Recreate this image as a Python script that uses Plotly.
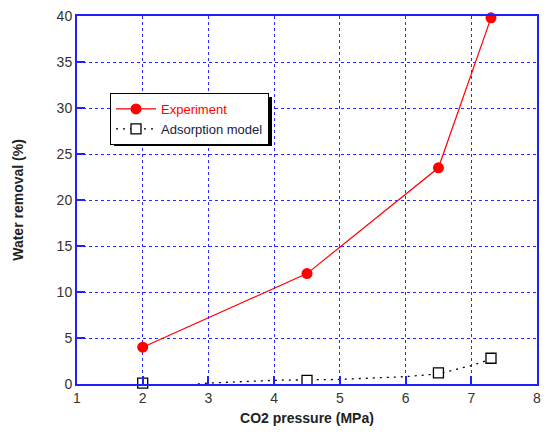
import plotly.graph_objects as go

pressure = [2, 4.5, 6.5, 7.3]
experiment = [4.0, 12.0, 23.5, 39.8]
model_points = [0.1, 0.4, 1.2, 2.8]
curve_x = [2.84, 3, 4, 5, 6, 6.5, 7, 7.3]
curve_y = [0.0, 0.1, 0.4, 0.5, 0.8, 1.1, 2.0, 2.7]

fig = go.Figure()
fig.add_trace(go.Scatter(x=pressure, y=experiment, mode="lines+markers",
                         name="<span style='color:#ff0000'>Experiment</span>",
                         line=dict(color="#ff0000", width=1.2),
                         marker=dict(color="#ff0000", size=11, symbol="circle"),
                         cliponaxis=False))
fig.add_trace(go.Scatter(x=curve_x, y=curve_y, mode="lines", showlegend=False,
                         line=dict(color="black", width=1.3, dash="2px,5px"), cliponaxis=False))
fig.add_trace(go.Scatter(x=pressure, y=model_points, mode="markers", showlegend=False,
                         marker=dict(color="white", size=10, symbol="square",
                                     line=dict(color="black", width=1.3)),
                         cliponaxis=False))
fig.add_trace(go.Scatter(x=[None], y=[None], mode="lines+markers",
                         name="Adsorption model",
                         line=dict(color="black", width=1.3, dash="2px,5px"),
                         marker=dict(size=10, symbol="square", color="white",
                                     line=dict(color="black", width=1.3))))

axis_common = dict(showline=True, linecolor="#2020ff", linewidth=2, mirror=True,
                   showgrid=True, gridcolor="#2a2aff", griddash="dot", gridwidth=1.3,
                   ticks="inside", ticklen=8, tickcolor="#2020ff", tickwidth=2,
                   zeroline=False, automargin=False, ticklabeloverflow="allow",
                   tickfont=dict(family="Arial", size=14, color="#333333"))

fig.update_xaxes(range=[1, 8], dtick=1, tick0=1,
                 title=dict(text="<b>CO2 pressure (MPa)</b>", font=dict(family="Arial", size=14, color="#222"), standoff=8),
                 **axis_common)
fig.update_yaxes(range=[0, 40], dtick=5,
                 title=dict(text="<b>Water removal (%)</b>", font=dict(family="Arial", size=14, color="#222"), standoff=30),
                 **axis_common)

# legend shadow (paper coords; plot area spans page px 77..537, 16..384)
W, H = 460, 368
def px(x): return (x - 77) / W
def py(y): return (384 - y) / H
fig.add_shape(type="rect", xref="paper", yref="paper",
              x0=px(114), x1=px(272), y0=py(146), y1=py(97),
              fillcolor="black", line=dict(width=0), layer="above")

# page body has an 8px margin, compensate so the plot area lands where it should
fig.update_layout(
    width=549, height=437,
    margin=dict(l=69, r=20, t=8, b=61, autoexpand=False),
    plot_bgcolor="white", paper_bgcolor="white",
    legend=dict(x=px(110), y=py(93), xanchor="left", yanchor="top",
                bgcolor="white", bordercolor="black", borderwidth=1,
                font=dict(family="Arial", size=13, color="#1a1a40"),
                tracegroupgap=0, itemwidth=40),
)

fig.write_html("out.html")
